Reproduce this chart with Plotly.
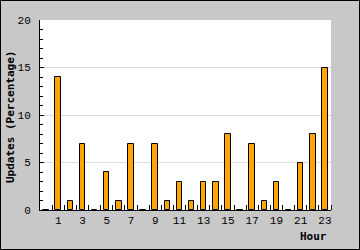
import plotly.graph_objects as go

hours = list(range(24))
updates = [0, 14, 1, 7, 0, 4, 1, 7, 0, 7, 1, 3, 1, 3, 3, 8, 0, 7, 1, 3, 0, 5, 8, 15]
x_tick_vals = list(range(1, 24, 2))
x_tick_text = [str(v) for v in x_tick_vals]
y_tick_vals = [0, 5, 10, 15, 20]

L, R, T, B = 40, 29, 20, 40
W, H = 360, 250
pw, ph = W - L - R, H - T - B

fig = go.Figure(go.Bar(
    x=hours, y=updates, width=0.45,
    marker=dict(color="#ffa500", line=dict(color="#000000", width=1)),
))

font = dict(family="Liberation Mono, DejaVu Sans Mono, monospace", size=11, color="#000")

fig.update_layout(
    width=W, height=H,
    margin=dict(l=L, r=R, t=T, b=B, pad=0),
    paper_bgcolor="#c8c8c8", plot_bgcolor="#ffffff",
    showlegend=False, font=font,
    bargap=0,
)
fig.update_xaxes(
    range=[-0.5, 23.5], tickvals=x_tick_vals, ticktext=x_tick_text,
    ticks="", showgrid=False, zeroline=False,
    showline=True, linecolor="#000", linewidth=1,
    minor=dict(ticks="inside", tickvals=[i + 0.5 for i in range(24)], ticklen=5,
               tickcolor="#000", showgrid=False),
    tickfont=font, fixedrange=True,
)
fig.update_yaxes(
    range=[0, 20.02], tickvals=y_tick_vals,
    ticks="inside", ticklen=4, tickcolor="#000",
    showgrid=True, gridcolor="#dddddd", gridwidth=1, zeroline=False,
    showline=True, linecolor="#000", linewidth=1,
    minor=dict(ticks="inside", dtick=1, ticklen=3, tickcolor="#000", showgrid=False),
    tickfont=font, ticklabelstandoff=6,
)

bold = dict(family="DejaVu Sans Mono, monospace", size=11, color="#000", weight="bold")
fig.add_annotation(text="Hour", xref="paper", yref="paper",
                   x=(329 - L) / pw, y=(H - B - 236) / ph,
                   xanchor="right", yanchor="middle", showarrow=False, font=bold)
fig.add_annotation(text="Updates (Percentage)", xref="paper", yref="paper",
                   x=(10 - L) / pw, y=(H - B - 117) / ph, textangle=-90,
                   xanchor="center", yanchor="middle", showarrow=False, font=bold)

fig.add_shape(type="rect", xref="paper", yref="paper",
              x0=(0.5 - L) / pw, x1=(W - 0.5 - L) / pw,
              y0=(H - B - (H - 0.5)) / ph, y1=(H - B - 0.5) / ph,
              line=dict(color="#000", width=1), fillcolor="rgba(0,0,0,0)", layer="above")

fig.write_html("out.html", config={"displayModeBar": False})
